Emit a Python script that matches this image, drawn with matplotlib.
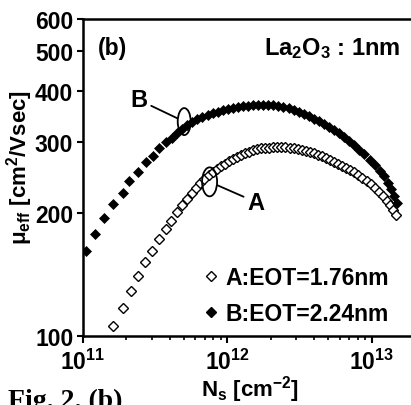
import numpy as np
import matplotlib
matplotlib.use('Agg')
from matplotlib import pyplot as plt
from matplotlib import transforms
from matplotlib.lines import Line2D
from matplotlib.patches import Ellipse
from matplotlib.ticker import FixedLocator, FixedFormatter, LogLocator, NullFormatter

plt.rcParams['font.family'] = ['Liberation Sans', 'DejaVu Sans']
plt.rcParams['font.weight'] = 'bold'
plt.rcParams['mathtext.fontset'] = 'custom'
plt.rcParams['mathtext.rm'] = 'Liberation Sans:bold'
plt.rcParams['mathtext.it'] = 'Liberation Sans:bold'
plt.rcParams['mathtext.bf'] = 'Liberation Sans:bold'

# sheet carrier density (1e12 cm^-2) and effective mobility (cm2/Vs)
# A: EOT = 1.76 nm
ns_a = [0.162, 0.188, 0.214, 0.239, 0.268, 0.300, 0.336, 0.376, 0.408, 0.449,
        0.487, 0.528, 0.573, 0.611, 0.652, 0.695, 0.742, 0.791, 0.844, 0.900,
        0.961, 1.024, 1.093, 1.166, 1.244, 1.327, 1.416, 1.510, 1.611, 1.718,
        1.833, 1.955, 2.086, 2.225, 2.374, 2.532, 2.702, 2.882, 3.074, 3.280,
        3.499, 3.732, 3.981, 4.247, 4.531, 4.833, 5.156, 5.500, 5.867, 6.259,
        6.677, 7.122, 7.598, 8.105, 8.647, 9.224, 9.840, 10.50, 11.20, 11.95,
        12.75, 13.37, 14.04, 14.74]
mu_a = [106, 117, 129, 140, 152, 162, 173, 183, 192, 202,
        210, 217, 225, 231, 237, 243, 248, 253, 257, 262,
        265, 269, 272, 275, 278, 281, 283, 286, 287, 289,
        290, 290, 291, 291, 291, 291, 290, 290, 288, 286,
        285, 283, 281, 278, 276, 274, 271, 268, 265, 262,
        259, 256, 252, 249, 244, 240, 236, 231, 226, 221,
        215, 210, 204, 198]

# B: EOT = 2.24 nm
ns_b = [0.105, 0.121, 0.140, 0.162, 0.188, 0.210, 0.239, 0.272, 0.305, 0.336,
        0.376, 0.415, 0.449, 0.487, 0.528, 0.573, 0.621, 0.673, 0.730, 0.791,
        0.858, 0.930, 1.008, 1.093, 1.185, 1.285, 1.393, 1.510, 1.637, 1.775,
        1.924, 2.086, 2.262, 2.452, 2.658, 2.882, 3.124, 3.387, 3.672, 3.981,
        4.316, 4.679, 5.073, 5.500, 5.963, 6.464, 7.008, 7.598, 8.237, 8.930,
        9.683, 10.50, 11.38, 12.14, 12.95, 13.59, 14.27, 14.98]
mu_b = [162, 178, 195, 211, 225, 240, 253, 268, 277, 290,
        300, 307, 315, 323, 330, 336, 340, 344, 348, 352,
        355, 358, 360, 362, 364, 366, 367, 368, 370, 370,
        370, 368, 367, 365, 362, 359, 355, 351, 346, 341,
        337, 332, 326, 321, 315, 308, 301, 294, 286, 279,
        271, 263, 254, 247, 238, 230, 221, 212]

y_ticks = [100, 200, 300, 400, 500, 600]
x_ticks = [1e11, 1e12, 1e13]
x_tick_labels = [r'$\mathregular{10^{11}}$', r'$\mathregular{10^{12}}$', r'$\mathregular{10^{13}}$']

fig = plt.figure(figsize=(4.11, 4.06), dpi=100)
ax = fig.add_axes([83 / 411, 69 / 406, 332 / 411, 317 / 406])

ax.plot(np.array(ns_a) * 1e12, mu_a, ls='none', marker='D', ms=4.6,
        mfc='white', mec='black', mew=1.0)
ax.plot(np.array(ns_b) * 1e12, mu_b, ls='none', marker='D', ms=5.0,
        mfc='black', mec='black', mew=0.5)

ax.set_xscale('log')
ax.set_yscale('log')
ax.set_xlim(1e11, 2e13)
ax.set_ylim(100, 600)

ax.yaxis.set_major_locator(FixedLocator(y_ticks))
ax.yaxis.set_major_formatter(FixedFormatter([str(t) for t in y_ticks]))
ax.yaxis.set_minor_locator(FixedLocator([]))
ax.xaxis.set_major_locator(FixedLocator(x_ticks))
ax.xaxis.set_major_formatter(FixedFormatter(x_tick_labels))
ax.xaxis.set_minor_locator(LogLocator(base=10, subs=np.arange(2, 10)))
ax.xaxis.set_minor_formatter(NullFormatter())

for side in ['left', 'bottom', 'top']:
    ax.spines[side].set_linewidth(1.8)
ax.spines['right'].set_visible(False)
ax.tick_params(axis='both', which='major', direction='out', length=4, width=1.5,
               labelsize=16.5, pad=3)
ax.tick_params(axis='x', which='major', length=5, pad=4)
ax.tick_params(axis='x', which='minor', direction='out', length=3, width=1.2)

fig.text(20 / 411, 1 - 168 / 406, r'$\mathregular{μ_{eff}}$ [cm$^{\mathregular{2}}$/Vsec]',
         rotation=90, ha='center', va='center', fontsize=16)
fig.text(250 / 411, 1 - 390 / 406, r'N$_{\mathregular{s}}$ [cm$^{\mathregular{-2}}$]',
         ha='center', va='center', fontsize=16)

ax.text(0.045, 0.91, '(b)', transform=ax.transAxes, fontsize=16.5, ha='left', va='center')
ax.text(0.955, 0.91, r'La$_{\mathregular{2}}$O$_{\mathregular{3}}$ : 1nm', transform=ax.transAxes,
        fontsize=17, ha='right', va='center')

handles = [Line2D([], [], ls='none', marker='D', ms=4.6, mfc='white', mec='black', mew=1.0),
           Line2D([], [], ls='none', marker='D', ms=5.0, mfc='black', mec='black')]
ax.legend(handles, ['A:EOT=1.76nm', 'B:EOT=2.24nm'], loc='lower right',
          bbox_to_anchor=(0.955, 0.0), frameon=False, fontsize=16.5,
          handlelength=0.5, handletextpad=0.35, labelspacing=0.55, borderpad=0)

# ellipses around each curve with a leader line to the letter
def mark_curve(label, center, text_pos, w, h):
    trans = fig.dpi_scale_trans + transforms.ScaledTranslation(center[0], center[1], ax.transData)
    ell = Ellipse((0, 0), w, h, transform=trans, fill=False, ec='black', lw=1.3, zorder=5)
    ax.add_patch(ell)
    ax.annotate(label, xy=center, xytext=text_pos, fontsize=17, ha='center', va='center',
                arrowprops=dict(arrowstyle='-', lw=1.3, patchB=ell, shrinkA=1, shrinkB=0))

mark_curve('B', (0.503e12, 336), (0.243e12, 380), 0.13, 0.27)
mark_curve('A', (0.754e12, 239), (1.585e12, 213), 0.15, 0.29)

fig.text(8 / 411, 1 - 408 / 406, 'Fig. 2. (b)', family='Liberation Serif', weight='bold',
         fontsize=20, ha='left', va='baseline')

fig.savefig('out.png', dpi=100)
